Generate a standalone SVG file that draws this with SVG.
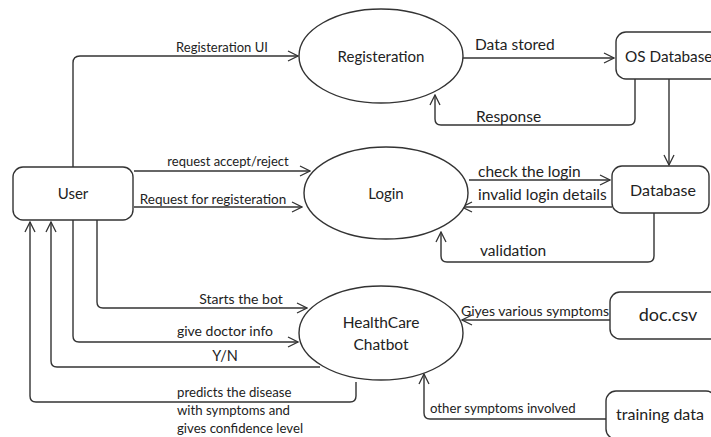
<svg xmlns="http://www.w3.org/2000/svg" width="711" height="437" viewBox="0 0 711 437">
<defs>
<marker id="ah" viewBox="0 0 12 12" refX="11" refY="6" markerWidth="12" markerHeight="12" markerUnits="userSpaceOnUse" orient="auto">
<path d="M1,1 L11,6 L1,11" fill="none" stroke="#333" stroke-width="1.3"/>
</marker>
<style>
.n{fill:#fff;stroke:#333;stroke-width:1.4}
.c{fill:none;stroke:#333;stroke-width:1.4;marker-end:url(#ah)}
.t{font-family:"Lato","Liberation Sans",sans-serif;font-size:15px;fill:#222;text-anchor:middle}
.l{font-family:"Lato","Liberation Sans",sans-serif;font-size:13.2px;fill:#222}
.m{text-anchor:middle}
.b{font-size:15.5px}
</style>
</defs>
<rect width="711" height="437" fill="#fff"/>
<g id="connectors">
<path class="c" d="M73,167 V63 Q73,56 80,56 H298"/>
<path class="c" d="M134,171 H310"/>
<path class="c" d="M134,207 H302"/>
<path class="c" d="M463,58 H614"/>
<path class="c" d="M635,79 V119 Q635,125 629,125 H441 Q435,125 435,119 V95"/>
<path class="c" d="M669,79 V165"/>
<path class="c" d="M469,180 H610"/>
<path class="c" d="M612,207 H462"/>
<path class="c" d="M654,213 V256 Q654,262 648,262 H447 Q441,262 441,256 V232"/>
<path class="c" d="M610,320 H462"/>
<path class="c" d="M606,419 H430 Q424,419 424,413 V374"/>
<path class="c" d="M97,220 V302 Q97,308 103,308 H307"/>
<path class="c" d="M73,220 V336 Q73,342 79,342 H298"/>
<path class="c" d="M320,367 H57 Q51,367 51,361 V222"/>
<path class="c" d="M356,382 V396 Q356,402 350,402 H36 Q30,402 30,396 V222"/>
<text class="l m" x="222" y="52" style="font-size:13px">Registeration UI</text>
<text class="l m" x="228" y="166" style="font-size:13px">request accept/reject</text>
<text class="l m" x="213" y="204" style="font-size:13.5px">Request for registeration</text>
<text class="l b" x="475" y="50">Data stored</text>
<text class="l b" x="476" y="122">Response</text>
<text class="l b" x="478" y="177">check the login</text>
<text class="l b" x="478" y="200">invalid login details</text>
<text class="l b" x="480" y="256">validation</text>
<text class="l" x="461" y="316" style="font-size:14px">Giyes various symptoms</text>
<text class="l" x="430" y="413">other symptoms involved</text>
<text class="l m" x="241" y="304" style="font-size:14px">Starts the bot</text>
<text class="l m" x="225" y="336" style="font-size:14px">give doctor info</text>
<text class="l m" x="225" y="361" style="font-size:14.5px">Y/N</text>
<text class="l" x="177" y="397">predicts the disease</text>
<text class="l" x="177" y="415">with symptoms and</text>
<text class="l" x="177" y="433">gives confidence level</text>
</g>
<g id="user">
<rect class="n" x="13" y="167" width="120" height="53" rx="10"/>
<text class="t" x="73" y="199">User</text>
</g>
<g id="registeration">
<ellipse class="n" cx="381" cy="56" rx="82" ry="47"/>
<text class="t" x="381" y="62">Registeration</text>
</g>
<g id="login">
<ellipse class="n" cx="386" cy="193" rx="82" ry="46"/>
<text class="t" x="386" y="199">Login</text>
</g>
<g id="chatbot">
<ellipse class="n" cx="381" cy="333" rx="82" ry="47"/>
<text class="t" x="381" y="328" style="font-size:15.5px">HealthCare</text>
<text class="t" x="381" y="350" style="font-size:15.5px">Chatbot</text>
</g>
<g id="osdatabase">
<rect class="n" x="616" y="32" width="110" height="47" rx="10"/>
<text class="t" x="625" y="62" style="text-anchor:start;font-size:15.3px">OS Database</text>
</g>
<g id="database">
<rect class="n" x="612" y="166" width="97" height="47" rx="10"/>
<text class="t" x="663" y="196" style="font-size:16px">Database</text>
</g>
<g id="doccsv">
<rect class="n" x="610" y="292" width="110" height="47" rx="10"/>
<text class="t" x="668" y="321" style="font-size:18px">doc.csv</text>
</g>
<g id="training">
<rect class="n" x="606" y="391" width="110" height="48" rx="10"/>
<text class="t" x="660" y="420" style="font-size:16px">training data</text>
</g>
</svg>
